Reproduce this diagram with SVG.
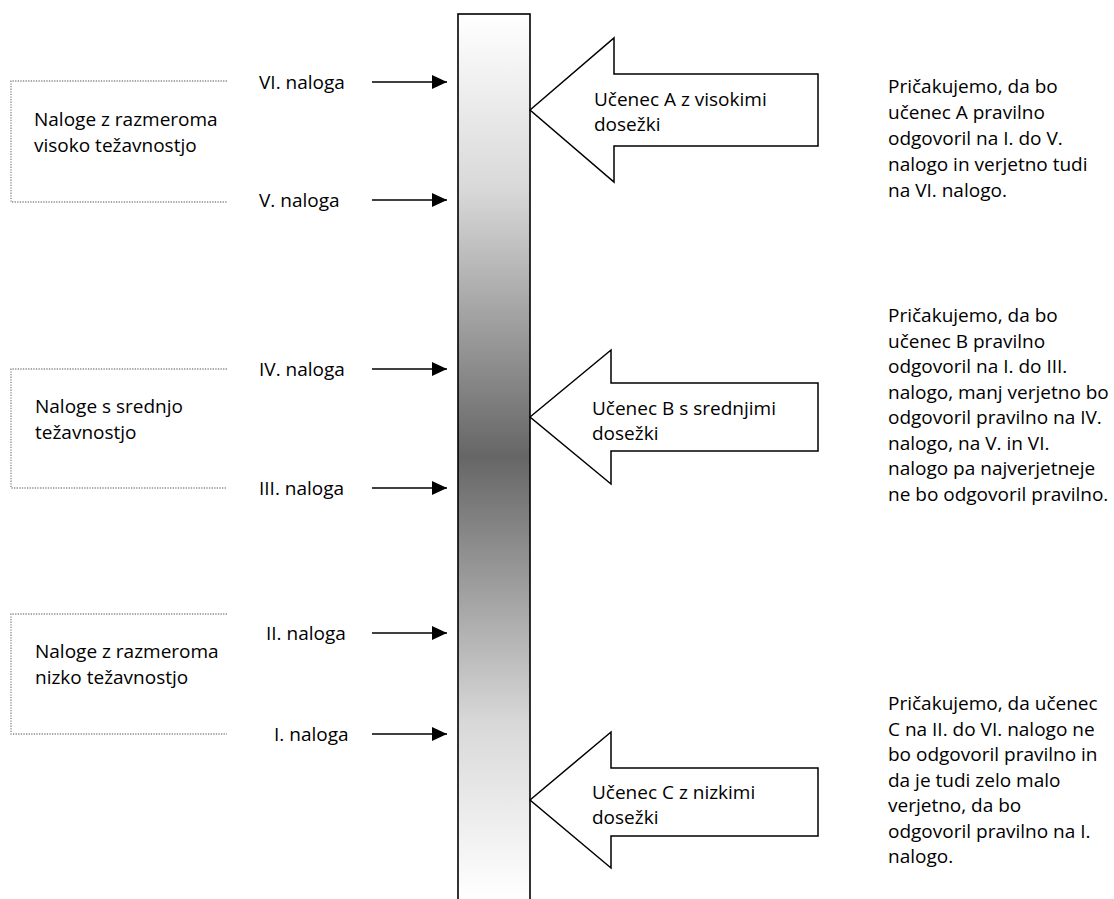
<svg xmlns="http://www.w3.org/2000/svg" width="1114" height="899" viewBox="0 0 1114 899">
<defs>
<linearGradient id="barGrad" gradientUnits="userSpaceOnUse" x1="0" y1="14" x2="0" y2="899">
<stop offset="0" stop-color="#ffffff"/>
<stop offset="0.2" stop-color="#d8d8d8"/>
<stop offset="0.5" stop-color="#666666"/>
<stop offset="0.8" stop-color="#d8d8d8"/>
<stop offset="1" stop-color="#ffffff"/>
</linearGradient>
<marker id="ah" markerWidth="15" markerHeight="14" refX="15" refY="7" orient="auto" markerUnits="userSpaceOnUse">
<path d="M0,0 L15,7 L0,14 Z" fill="#000"/>
</marker>
</defs>
<style>
text { font-family: "Open Sans", "Noto Sans", "Liberation Sans", sans-serif; font-size: 19px; fill: #000; }
.bracket { fill: none; stroke: #8a8a8a; stroke-width: 1.3; stroke-dasharray: 1.3 1.3; }
.conn { stroke: #000; stroke-width: 1.6; fill: none; }
.big { fill: #fff; stroke: #000; stroke-width: 1.5; stroke-linejoin: miter; }
</style>
<rect width="1114" height="899" fill="#fff"/>

<g id="scale-bar">
<rect x="458" y="14" width="72" height="895" fill="url(#barGrad)" stroke="#000" stroke-width="1.6"/>
</g>

<g id="group-high">
<path class="bracket" d="M227,81 H11 V202 H227"/>
<text x="34" y="126">Naloge z razmeroma</text>
<text x="34" y="152">visoko težavnostjo</text>
</g>
<g id="group-mid">
<path class="bracket" d="M227,369 H11 V488 H227"/>
<text x="35" y="413">Naloge s srednjo</text>
<text x="35" y="439">težavnostjo</text>
</g>
<g id="group-low">
<path class="bracket" d="M227,614 H11 V734 H227"/>
<text x="35" y="658">Naloge z razmeroma</text>
<text x="35" y="684">nizko težavnostjo</text>
</g>

<g id="task-6"><text x="259" y="89">VI. naloga</text></g>
<g id="task-5"><text x="259" y="207">V. naloga</text></g>
<g id="task-4"><text x="259" y="376">IV. naloga</text></g>
<g id="task-3"><text x="259" y="495">III. naloga</text></g>
<g id="task-2"><text x="266" y="640">II. naloga</text></g>
<g id="task-1"><text x="274" y="741">I. naloga</text></g>

<g id="connectors">
<line class="conn" x1="372" y1="82" x2="447" y2="82" marker-end="url(#ah)"/>
<line class="conn" x1="372" y1="200" x2="447" y2="200" marker-end="url(#ah)"/>
<line class="conn" x1="372" y1="369" x2="447" y2="369" marker-end="url(#ah)"/>
<line class="conn" x1="372" y1="488" x2="447" y2="488" marker-end="url(#ah)"/>
<line class="conn" x1="372" y1="633" x2="447" y2="633" marker-end="url(#ah)"/>
<line class="conn" x1="372" y1="734" x2="447" y2="734" marker-end="url(#ah)"/>
</g>

<g id="student-a">
<polygon class="big" points="530,110 614,38 614,74 818,74 818,146 614,146 614,182"/>
<text x="594" y="106">Učenec A z visokimi</text>
<text x="594" y="131">dosežki</text>
</g>
<g id="student-b">
<polygon class="big" points="530,417 611,350 611,383 818,383 818,451 611,451 611,484"/>
<text x="592" y="415">Učenec B s srednjimi</text>
<text x="592" y="440">dosežki</text>
</g>
<g id="student-c">
<polygon class="big" points="530,800 611,732 611,768 818,768 818,836 611,836 611,868"/>
<text x="592" y="799">Učenec C z nizkimi</text>
<text x="592" y="824">dosežki</text>
</g>

<g id="note-a">
<text x="888" y="93">Pričakujemo, da bo</text>
<text x="888" y="119">učenec A pravilno</text>
<text x="888" y="145">odgovoril na I. do V.</text>
<text x="888" y="171">nalogo in verjetno tudi</text>
<text x="888" y="197">na VI. nalogo.</text>
</g>
<g id="note-b">
<text x="888" y="322">Pričakujemo, da bo</text>
<text x="888" y="347.5">učenec B pravilno</text>
<text x="888" y="373">odgovoril na I. do III.</text>
<text x="888" y="398.5">nalogo, manj verjetno bo</text>
<text x="888" y="424">odgovoril pravilno na IV.</text>
<text x="888" y="449.5">nalogo, na V. in VI.</text>
<text x="888" y="475">nalogo pa najverjetneje</text>
<text x="888" y="501">ne bo odgovoril pravilno.</text>
</g>
<g id="note-c">
<text x="888" y="710">Pričakujemo, da učenec</text>
<text x="888" y="735.5">C na II. do VI. nalogo ne</text>
<text x="888" y="761">bo odgovoril pravilno in</text>
<text x="888" y="786.5">da je tudi zelo malo</text>
<text x="888" y="812">verjetno, da bo</text>
<text x="888" y="837.5">odgovoril pravilno na I.</text>
<text x="888" y="863">nalogo.</text>
</g>
</svg>
